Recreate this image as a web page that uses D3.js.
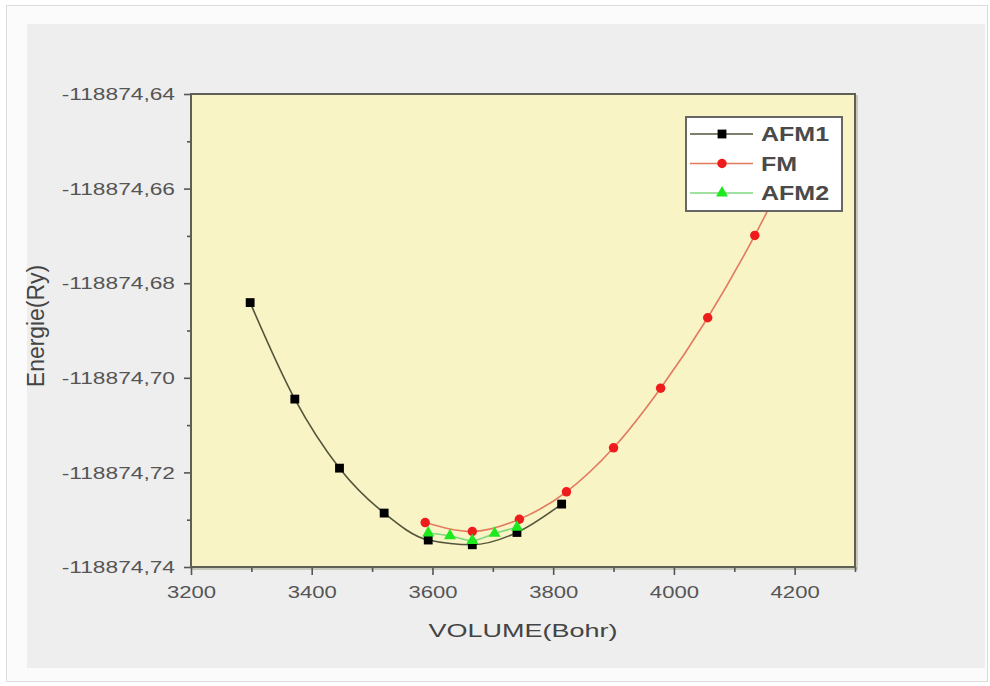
<!DOCTYPE html>
<html>
<head>
<meta charset="utf-8">
<script src="https://cdn.jsdelivr.net/npm/d3@7"></script>
<style>
  html, body { margin: 0; padding: 0; background: #ffffff; }
  svg { display: block; }
  text { font-family: "Liberation Sans", Arial, sans-serif; }
</style>
</head>
<body>
<svg id="chart" width="990" height="686"></svg>
<script>
// ---- data ----
const seriesNames = ["AFM1", "FM", "AFM2"];
const volAFM1 = [3298, 3372, 3446, 3520, 3593, 3666, 3740, 3814];
const eAFM1 = [-118874.6841, -118874.7045, -118874.7191, -118874.7286, -118874.7343, -118874.7353, -118874.7327, -118874.7267];
const volFM = [3588, 3666, 3744, 3822, 3900, 3978, 4056, 4134, 4212];
const eFM = [-118874.7306, -118874.7325, -118874.7299, -118874.7241, -118874.7148, -118874.7022, -118874.6873, -118874.6699, -118874.6500];
const volAFM2 = [3593, 3629, 3666, 3703, 3740];
const eAFM2 = [-118874.7328, -118874.7334, -118874.7344, -118874.7329, -118874.7316];
const xTickValues = [3200, 3400, 3600, 3800, 4000, 4200];
const xMinorValues = [3300, 3500, 3700, 3900, 4100, 4300];
const yTickValues = [-118874.74, -118874.72, -118874.70, -118874.68, -118874.66, -118874.64];
const yTickLabels = ["-118874,74", "-118874,72", "-118874,70", "-118874,68", "-118874,66", "-118874,64"];
const yMinorValues = [-118874.73, -118874.71, -118874.69, -118874.67, -118874.65];
const xTitle = "VOLUME(Bohr)";
const yTitle = "Energie(Ry)";

// ---- layout ----
const W = 990, H = 686;
const plot = { left: 191, right: 855, top: 94, bottom: 567 };
const svg = d3.select("#chart");

function stretch(sel, f) {
  sel.each(function () {
    const L = this.getComputedTextLength();
    d3.select(this).attr("textLength", L * f).attr("lengthAdjust", "spacingAndGlyphs");
  });
}

// backgrounds
svg.append("rect").attr("x", 0).attr("y", 0).attr("width", W).attr("height", H).attr("fill", "#ffffff");
svg.append("rect").attr("x", 6.5).attr("y", 5.5).attr("width", 981).attr("height", 676)
  .attr("fill", "#fbfbfb").attr("stroke", "#dcdcdc").attr("stroke-width", 1);
svg.append("rect").attr("x", 27).attr("y", 24).attr("width", 958).attr("height", 644).attr("fill", "#eeeeee");

const x = d3.scaleLinear().domain([3200, 4300]).range([plot.left, plot.right]);
const y = d3.scaleLinear().domain([-118874.74, -118874.64]).range([plot.bottom, plot.top]);

// plot area
svg.append("rect").attr("x", plot.left + 2).attr("y", plot.top + 2)
  .attr("width", plot.right - plot.left).attr("height", plot.bottom - plot.top)
  .attr("fill", "none").attr("stroke", "#bbbbaa").attr("stroke-width", 1.5);
svg.append("rect").attr("x", plot.left).attr("y", plot.top)
  .attr("width", plot.right - plot.left).attr("height", plot.bottom - plot.top)
  .attr("fill", "#f8f4c6");

// axes
const axisColor = "#555555";
const gx = svg.append("g").attr("transform", `translate(0,${plot.bottom})`)
  .call(d3.axisBottom(x).tickValues(xTickValues).tickSize(8).tickSizeOuter(0).tickFormat(d3.format("d")));
const gxm = svg.append("g").attr("transform", `translate(0,${plot.bottom})`)
  .call(d3.axisBottom(x).tickValues(xMinorValues).tickSize(5).tickSizeOuter(0).tickFormat(""));
const gy = svg.append("g").attr("transform", `translate(${plot.left},0)`)
  .call(d3.axisLeft(y).tickValues(yTickValues).tickSize(7).tickSizeOuter(0)
    .tickFormat((d, i) => yTickLabels[i]));
const gym = svg.append("g").attr("transform", `translate(${plot.left},0)`)
  .call(d3.axisLeft(y).tickValues(yMinorValues).tickSize(4).tickSizeOuter(0).tickFormat(""));
[gx, gxm, gy, gym].forEach(g => {
  g.select(".domain").remove();
  g.selectAll(".tick line").attr("stroke", axisColor).attr("stroke-width", 1.6);
});
gx.selectAll(".tick text").attr("font-size", 16).attr("fill", "#555").attr("dy", "0").attr("y", 31);
gy.selectAll(".tick text").attr("font-size", 16).attr("fill", "#555").attr("x", -16).attr("dy", "0.35em");
stretch(gx.selectAll(".tick text"), 1.38);
stretch(gy.selectAll(".tick text"), 1.42);

// plot border
svg.append("rect").attr("x", plot.left).attr("y", plot.top)
  .attr("width", plot.right - plot.left).attr("height", plot.bottom - plot.top)
  .attr("fill", "none").attr("stroke", "#5f5f55").attr("stroke-width", 2);

// titles
const xt = svg.append("text").attr("x", (plot.left + plot.right) / 2).attr("y", 637)
  .attr("text-anchor", "middle").attr("font-size", 19).attr("fill", "#444").text(xTitle);
stretch(xt, 1.42);
svg.append("text").attr("transform", "translate(44,326) rotate(-90) scale(1.35,1.4)")
  .attr("text-anchor", "middle").attr("font-size", 17).attr("fill", "#444").text(yTitle);

// series
const series = [
  { name: seriesNames[0], vol: volAFM1, e: eAFM1, line: "#55553c", fill: "#000000", sym: d3.symbolSquare, size: 78 },
  { name: seriesNames[1], vol: volFM, e: eFM, line: "#e27a5e", fill: "#ee1c1c", sym: d3.symbolCircle, size: 70 },
  { name: seriesNames[2], vol: volAFM2, e: eAFM2, line: "#7fd87f", fill: "#1ee81e", sym: d3.symbolTriangle, size: 62 }
];
const lineGen = d3.line().x(d => x(d[0])).y(d => y(d[1])).curve(d3.curveMonotoneX);
series.forEach(s => {
  const pts = s.vol.map((v, i) => [v, s.e[i]]);
  svg.append("path").datum(pts).attr("d", lineGen).attr("fill", "none")
    .attr("stroke", s.line).attr("stroke-width", 1.6);
  svg.append("g").selectAll("path").data(pts).join("path")
    .attr("transform", d => `translate(${x(d[0])},${y(d[1])})`)
    .attr("d", d3.symbol().type(s.sym).size(s.size)).attr("fill", s.fill);
});

// legend
const lg = svg.append("g");
lg.append("rect").attr("x", 686).attr("y", 117).attr("width", 156).attr("height", 94)
  .attr("fill", "#ffffff").attr("stroke", "#666666").attr("stroke-width", 2);
series.forEach((s, i) => {
  const yy = 134 + i * 29.5;
  lg.append("line").attr("x1", 690).attr("x2", 753).attr("y1", yy).attr("y2", yy)
    .attr("stroke", s.line).attr("stroke-width", 1.4);
  lg.append("path").attr("transform", `translate(722,${yy})`)
    .attr("d", d3.symbol().type(s.sym).size(s.size)).attr("fill", s.fill);
  const t = lg.append("text").attr("x", 761).attr("y", yy).attr("dy", "0.36em")
    .attr("font-size", 20).attr("font-weight", "bold").attr("fill", "#4a4a4a").text(s.name);
  stretch(t, 1.25);
});
</script>
</body>
</html>
